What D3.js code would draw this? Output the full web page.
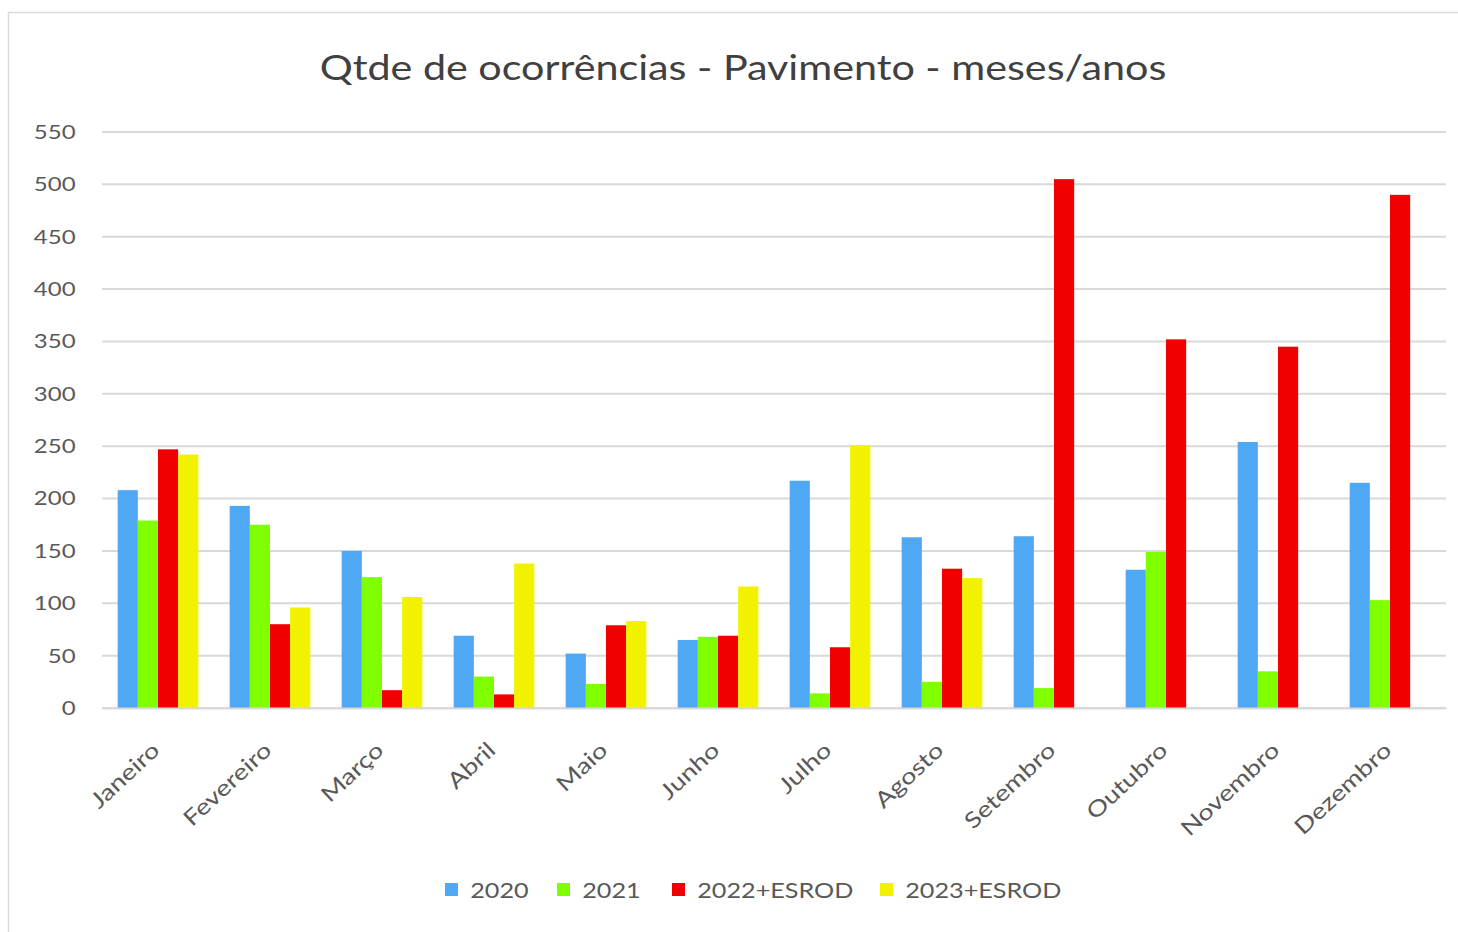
<!DOCTYPE html>
<html>
<head>
<meta charset="utf-8">
<script src="https://cdn.jsdelivr.net/npm/d3@7"></script>
<style>
  body { margin: 0; background: #fff; }
  svg { display: block; font-family: Lato, "Open Sans", sans-serif; }
</style>
</head>
<body>
<svg width="1458" height="932"></svg>
<script>
var months = ["Janeiro", "Fevereiro", "Março", "Abril", "Maio", "Junho",
              "Julho", "Agosto", "Setembro", "Outubro", "Novembro", "Dezembro"];
var seriesNames = ["2020", "2021", "2022+ESROD", "2023+ESROD"];
var v2020 = [208, 193, 150, 69, 52, 65, 217, 163, 164, 132, 254, 215];
var v2021 = [179, 175, 125, 30, 23, 68, 14, 25, 19, 149, 35, 103];
var v2022 = [247, 80, 17, 13, 79, 69, 58, 133, 505, 352, 345, 490];
var v2023 = [242, 96, 106, 138, 83, 116, 251, 124, 0, 0, 0, 0];
var yTicks = [0, 50, 100, 150, 200, 250, 300, 350, 400, 450, 500, 550];
var colors = ["#4fa8f4", "#80ff00", "#f00000", "#f2f200"];

var svg = d3.select("svg");
var margin = {left: 102, right: 12, top: 132, bottom: 224};
var width = 1458 - margin.left - margin.right,
    height = 932 - margin.top - margin.bottom;
var stretch = 1.2;  // text in the picture is a bit wider than normal

var data = months.map(function(m, i) {
    return {month: m, values: [v2020[i], v2021[i], v2022[i], v2023[i]]};
});

// chart frame
svg.append("rect")
    .attr("x", 8.5).attr("y", 12.5)
    .attr("width", 1470).attr("height", 940)
    .attr("fill", "#fff")
    .attr("stroke", "#d9d9d9")
    .attr("stroke-width", 1.5);

var title = svg.append("text")
    .attr("text-anchor", "middle")
    .attr("font-size", "35px")
    .attr("fill", "#404040")
    .text("Qtde de ocorrências - Pavimento - meses/anos");
var tw = title.node().getComputedTextLength();
title.attr("transform", "translate(743,80) scale(" + (847 / tw) + ",1)");

var xScale = d3.scaleBand().domain(months).range([0, width])
        .paddingInner(0.28).paddingOuter(0.14),
    xSub = d3.scaleBand().domain(d3.range(4)).range([0, xScale.bandwidth()]),
    yScale = d3.scaleLinear().domain([0, 550]).range([height, 0]);

var g = svg.append("g")
    .attr("transform", "translate(" + margin.left + "," + margin.top + ")");

// gridlines
g.append("g")
    .selectAll("line")
    .data(yTicks)
    .enter().append("line")
    .attr("x1", 0)
    .attr("x2", width)
    .attr("y1", function(d) { return yScale(d); })
    .attr("y2", function(d) { return yScale(d); })
    .attr("stroke", "#d9d9d9")
    .attr("stroke-width", 2);

// y axis labels
var yAxis = g.append("g")
    .call(d3.axisLeft(yScale).tickValues(yTicks).tickSize(0).tickPadding(22));
yAxis.select(".domain").remove();
yAxis.selectAll("text")
    .attr("font-size", "20px")
    .attr("font-family", "Lato, 'Open Sans', sans-serif")
    .attr("fill", "#595959")
    .attr("transform", "scale(" + stretch + ",1)");

// bars
var groups = g.selectAll(".month")
    .data(data)
    .enter().append("g")
    .attr("class", "month")
    .attr("transform", function(d) { return "translate(" + xScale(d.month) + ",0)"; });

groups.selectAll("rect")
    .data(function(d) { return d.values; })
    .enter().append("rect")
    .attr("x", function(d, i) { return xSub(i); })
    .attr("y", function(d) { return yScale(d); })
    .attr("width", xSub.bandwidth())
    .attr("height", function(d) { return height - yScale(d); })
    .attr("fill", function(d, i) { return colors[i]; });

// x axis
var xAxis = g.append("g")
    .attr("transform", "translate(0," + height + ")")
    .call(d3.axisBottom(xScale).tickSize(0).tickPadding(0));
xAxis.select(".domain")
    .attr("stroke", "#d9d9d9")
    .attr("stroke-width", 2);
xAxis.selectAll("text")
    .attr("font-size", "22px")
    .attr("font-family", "Lato, 'Open Sans', sans-serif")
    .attr("fill", "#595959")
    .style("text-anchor", "end")
    .attr("y", 0)
    .attr("dx", "0")
    .attr("dy", "0")
    .attr("transform", "translate(3,44) rotate(-43) scale(1.23,1)");

// legend
var legendX = [445, 557, 672, 880];
var legend = svg.append("g")
    .selectAll("g")
    .data(seriesNames)
    .enter().append("g")
    .attr("transform", function(d, i) { return "translate(" + legendX[i] + ",883)"; });
legend.append("rect")
    .attr("width", 13).attr("height", 13)
    .attr("fill", function(d, i) { return colors[i]; });
legend.append("text")
    .attr("x", 21)
    .attr("y", 15)
    .attr("font-size", "21px")
    .attr("fill", "#595959")
    .attr("transform", "scale(" + stretch + ",1)")
    .text(function(d) { return d; });
</script>
</body>
</html>
